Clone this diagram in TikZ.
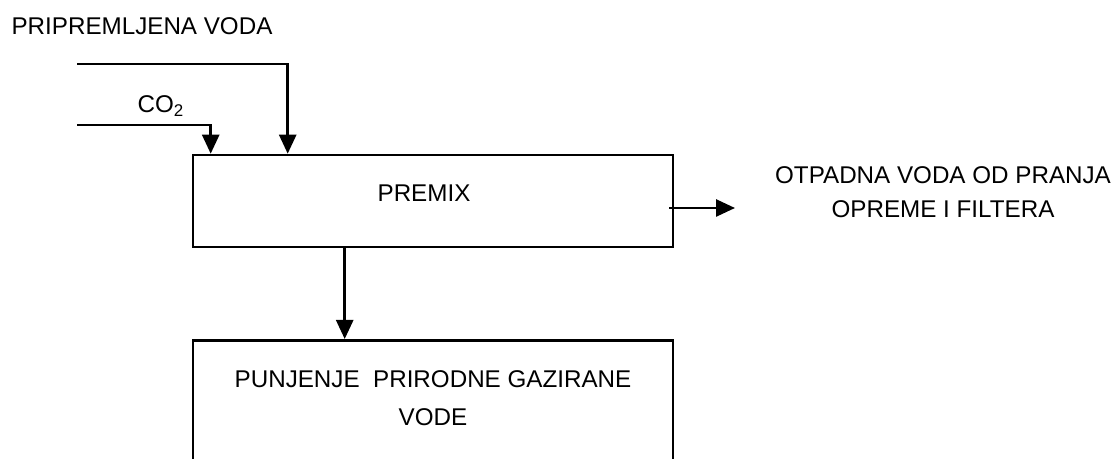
\documentclass[tikz,border=0pt]{standalone}
\usepackage{fontspec}
\setmainfont{Liberation Sans}
\usetikzlibrary{arrows.meta,calc}

\begin{document}
\begin{tikzpicture}[
    x=0.5pt, y=-0.5pt,
    font=\fontsize{12.1}{17}\selectfont,
    box/.style={draw, line width=1.3pt, minimum width=240pt, inner sep=0pt},
    flow/.style={-{Triangle[length=9.5pt,width=8.5pt]}, line width=1.3pt},
    lbl/.style={inner sep=0pt, anchor=base}
]
    \clip (0,0) rectangle (1118,459);

    % Inputs
    \node[lbl] (pripvoda) at (142,35) {PRIPREMLJENA VODA};
    \node[lbl] (co2) at (161,113) {CO\textsubscript{2}};
    \coordinate (pvstart) at (77,64);
    \coordinate (co2start) at (77,125);

    % Premix
    \node[box, minimum height=46pt] (premix) at (433,201) {};
    \node[lbl] (premixtxt) at (424,202) {PREMIX};

    % Filling
    \node[box, minimum height=90pt, anchor=north] (punjenje) at (433,339) {};
    \node[lbl, align=center, font=\fontsize{12.1}{19}\selectfont] (punjtxt) at (433,425)
        {PUNJENJE\ \ PRIRODNE GAZIRANE\\VODE};

    % Waste water
    \node[lbl, align=center] (otpad) at (943,218) {OTPADNA VODA OD PRANJA\\OPREME I FILTERA};
    \coordinate (otpadend) at (735,208);

    % Flows
    \draw[flow] (pvstart) -| ($(premix.north west)+(96,0)$);
    \draw[flow] (co2start) -| ($(premix.north west)+(19,0)$);
    \draw[flow] ($(premix.south west)+(153,0)$) -- ($(punjenje.north west)+(153,0)$);
    \draw[flow] ($(premix.east)+(-5,7)$) -- (otpadend);
\end{tikzpicture}
\end{document}
